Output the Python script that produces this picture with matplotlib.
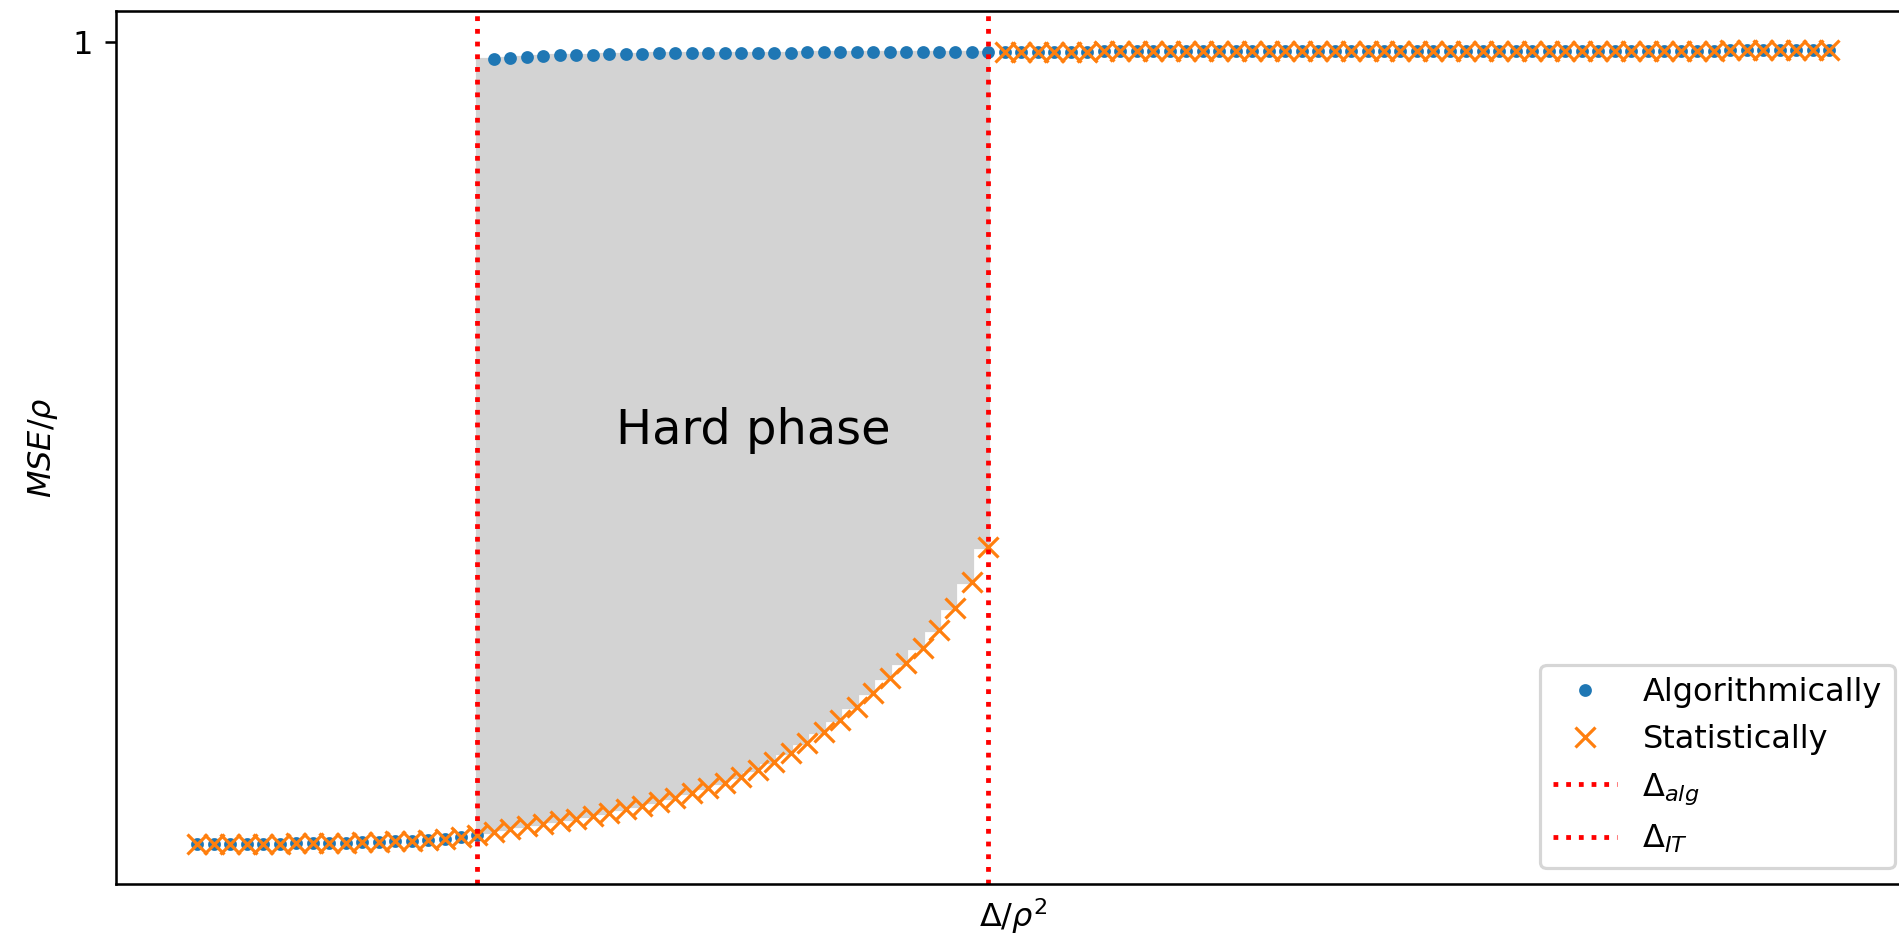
import numpy as np
import matplotlib
matplotlib.use("Agg")
import matplotlib.pyplot as plt

# Algorithmic MSE/rho (blue dots), 100 grid points of Delta/rho^2
alg_low = [0.0089, 0.0090, 0.0091, 0.0093, 0.0095, 0.0098, 0.0100, 0.0102, 0.0106,
           0.0110, 0.0115, 0.0120, 0.0126, 0.0135, 0.0146, 0.0159, 0.0176, 0.0200]
alg_hard = [0.9783, 0.9802, 0.9815, 0.9823, 0.9832, 0.9836, 0.9844, 0.9848, 0.9852,
            0.9854, 0.9857, 0.9859, 0.9862, 0.9863, 0.9864, 0.9865, 0.9867, 0.9868,
            0.9869, 0.9870, 0.9871, 0.9872, 0.9873, 0.9874, 0.9874, 0.9875, 0.9876,
            0.9876, 0.9877, 0.9877, 0.9878]
high_plateau = [0.9879, 0.9879, 0.9880, 0.9880, 0.9881, 0.9881, 0.9882, 0.9882, 0.9883,
                0.9883, 0.9884, 0.9884, 0.9885, 0.9885, 0.9885, 0.9886, 0.9886, 0.9886,
                0.9887, 0.9887, 0.9887, 0.9888, 0.9888, 0.9888, 0.9889, 0.9889, 0.9889,
                0.9890, 0.9890, 0.9890, 0.9890, 0.9891, 0.9891, 0.9891, 0.9891, 0.9892,
                0.9892, 0.9892, 0.9892, 0.9893, 0.9893, 0.9893, 0.9893, 0.9893, 0.9894,
                0.9894, 0.9894, 0.9894, 0.9894, 0.9895, 0.9895]
# Statistical (information-theoretic) MSE/rho in the hard region
stat_hard = [0.0243, 0.0280, 0.0311, 0.0342, 0.0373, 0.0404, 0.0441, 0.0478, 0.0521,
             0.0564, 0.0614, 0.0663, 0.0719, 0.0780, 0.0848, 0.0922, 0.1009, 0.1107,
             0.1219, 0.1342, 0.1478, 0.1626, 0.1786, 0.1959, 0.2138, 0.2323, 0.2511,
             0.2737, 0.3005, 0.3333, 0.3765]

algorithmic = np.array(alg_low + alg_hard + high_plateau)
statistical = np.array(alg_low + stat_hard + high_plateau)
delta = np.arange(len(algorithmic))  # uniform grid of Delta/rho^2

i_alg = len(alg_low) - 1                 # Delta_alg grid index
i_it = len(alg_low) + len(stat_hard) - 1 # Delta_IT grid index
delta_alg = delta[i_alg]
delta_it = delta[i_it]

fig = plt.figure(figsize=(1899 / 230, 935 / 230), dpi=230)
ax = fig.add_axes([0.06093, 0.054545, 0.94518, 0.93401])

ax.fill_between(delta[i_alg:i_it + 1], statistical[i_alg:i_it + 1],
                algorithmic[i_alg:i_it + 1], step='pre', color='lightgray')
ax.plot(delta, algorithmic, '.', label='Algorithmically')
ax.plot(delta, statistical, 'x', label='Statistically')
ax.axvline(delta_alg, color='red', linestyle=':', label=r'$\Delta_{alg}$')
ax.axvline(delta_it, color='red', linestyle=':', label=r'$\Delta_{IT}$')

ax.text(delta_alg + 8.4, 0.503, 'Hard phase', fontsize=15)

ax.set_xticks([])
ax.set_yticks([1])
ax.set_xlabel(r'$\Delta/\rho^2$')
ax.set_ylabel(r'$MSE/\rho$')
ax.legend(loc='lower right')

fig.savefig('out.png', dpi=230)
